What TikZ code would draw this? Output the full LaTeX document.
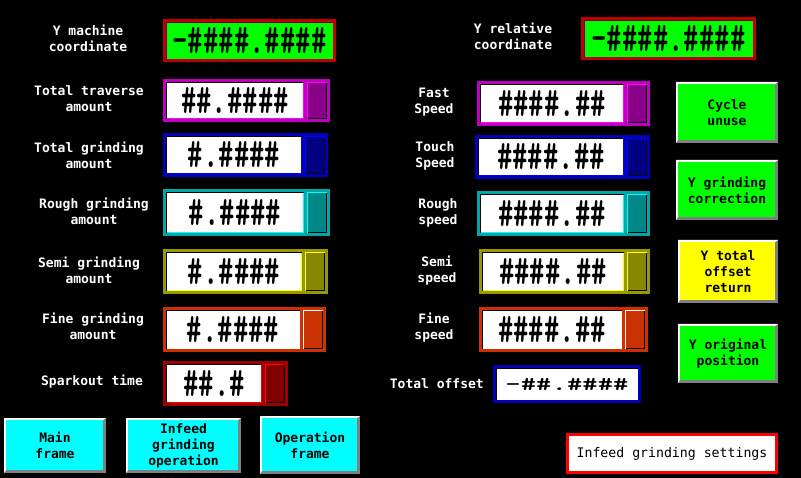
\documentclass[tikz,border=0pt]{standalone}
\usepackage{fontspec}
\usepackage{graphicx}
\newfontfamily\lblfont{DejaVu Sans Mono}
\definecolor{mgF}{HTML}{C000C0}\definecolor{mgD}{HTML}{880088}\definecolor{mgL}{HTML}{FF00FF}
\definecolor{blF}{HTML}{0000B8}\definecolor{blD}{HTML}{000080}\definecolor{blL}{HTML}{0000FF}
\definecolor{tlF}{HTML}{00A8A8}\definecolor{tlD}{HTML}{008888}\definecolor{tlL}{HTML}{00FFFF}
\definecolor{olF}{HTML}{989800}\definecolor{olD}{HTML}{888800}\definecolor{olL}{HTML}{FFFF00}
\definecolor{orF}{HTML}{D03000}\definecolor{orD}{HTML}{C83200}\definecolor{orL}{HTML}{FFFFFF}
\definecolor{drF}{HTML}{A00000}\definecolor{drD}{HTML}{800000}\definecolor{drL}{HTML}{FF0000}
\definecolor{rdF}{HTML}{C00000}\definecolor{rdD}{HTML}{700000}
\definecolor{scrgreen}{HTML}{00FF00}\definecolor{scrcyan}{HTML}{00FFFF}\definecolor{scryellow}{HTML}{FFFF00}
\definecolor{edgegray}{HTML}{808080}
\newcommand{\hs}[1]{\scalebox{1}[1.45]{#1}}
\newcommand{\fld}[8]{%
  \fill[#7F] (#2,#3) rectangle (#4,#5);
  \fill[white] ({#2+3},{#3+3}) rectangle ({#6-3},{#5-3});
  \draw[black,line width=1pt] ({#2+3.5},{#5-3}) -- ({#2+3.5},{#3+3.5}) -- ({#6-3},{#3+3.5});
  \draw[#7L,line width=1pt] ({#2+4},{#5-3.5}) -- ({#6-3.5},{#5-3.5}) -- ({#6-3.5},{#3+4});
  \fill[#7D] (#6,{#3+3}) rectangle ({#4-3},{#5-3});
  \draw[#7L,line width=1pt] ({#6+0.5},{#5-3}) -- ({#6+0.5},{#3+3.5}) -- ({#4-3},{#3+3.5});
  \draw[black,line width=1pt] ({#6+1},{#5-3.5}) -- ({#4-3.5},{#5-3.5}) -- ({#4-3.5},{#3+4});
  \node[hash] (#1) at ({(#2+#6)/2},{(#3+#5)/2}) {\hs{#8}};
}
\newcommand{\grn}[6]{%
  \fill[rdF] (#2,#3) rectangle (#4,#5);
  \fill[rdD] ({#2+3},{#3+3}) rectangle ({#4-3},{#5-3});
  \fill[scrgreen] ({#2+4},{#3+4}) rectangle ({#4-3},{#5-3});
  \node[hash] (#1) at ({(#2+#4)/2},{(#3+#5)/2}) {\hs{#6}};
}
\newcommand{\btn}[7]{%
  \fill[edgegray] (#2,#3) rectangle (#4,#5);
  \fill[white] (#2,#3) -- (#4,#3) -- ({#4-3},{#3+2}) -- ({#2+2},{#5-3}) -- (#2,#5) -- cycle;
  \fill[#6] ({#2+2},{#3+2}) rectangle ({#4-3},{#5-3});
  \node[btntext] (#1) at ({(#2+#4)/2},{(#3+#5)/2}) {#7};
}
\begin{document}
\begin{tikzpicture}[x=1pt,y=-1pt,
  lbl/.style={text=white,font=\fontsize{13}{16}\selectfont\lblfont\bfseries,align=center,inner sep=0pt},
  btntext/.style={text=black,font=\fontsize{13}{16}\selectfont\lblfont\bfseries,align=center,inner sep=0pt},
  hash/.style={text=black,font=\fontsize{29.3}{30}\selectfont\ttfamily\bfseries,inner sep=0pt}]
\fill[black] (0,0) rectangle (801,478);
\useasboundingbox (0,0) rectangle (801,478);
% left labels
\node[lbl] (l1) at (88,38.5) {Y machine\\coordinate};
\node[lbl] (l2) at (89,99) {Total traverse\\amount};
\node[lbl] (l3) at (89,155) {Total grinding\\amount};
\node[lbl] (l4) at (94,211.5) {Rough grinding\\amount};
\node[lbl] (l5) at (89,270) {Semi grinding\\amount};
\node[lbl] (l6) at (93,326) {Fine grinding\\amount};
\node[lbl] (l7) at (92,382) {Sparkout time};
% right labels
\node[lbl] (r1) at (513,36.5) {Y relative\\coordinate};
\node[lbl] (r2) at (434,102.5) {Fast\\Speed};
\node[lbl] (r3) at (435,156) {Touch\\Speed};
\node[lbl] (r4) at (438,212.5) {Rough\\speed};
\node[lbl] (r5) at (437,271) {Semi\\speed};
\node[lbl] (r6) at (434,328) {Fine\\speed};
\node[lbl,anchor=east] (r7) at (484,384) {Total offset};
% green coordinate boxes
\grn{ymach}{163}{19}{336}{62}{-\#\#\#\#.\#\#\#\#}
\grn{yrel}{581}{17}{756}{60}{-\#\#\#\#.\#\#\#\#}
% left fields
\fld{trav}{163}{79}{330}{122}{307}{mg}{\#\#.\#\#\#\#}
\fld{tgrind}{163}{133}{328}{177}{305}{bl}{\#.\#\#\#\#}
\fld{rgrind}{163}{189}{330}{236}{307}{tl}{\#.\#\#\#\#}
\fld{sgrind}{163}{249}{328}{294}{305}{ol}{\#.\#\#\#\#}
\fld{fgrind}{163}{307}{326}{352}{303}{or}{\#.\#\#\#\#}
\fld{spark}{163}{361}{288}{406}{265}{dr}{\#\#.\#}
% right fields
\fld{fast}{477}{81}{650}{126}{627}{mg}{\#\#\#\#.\#\#}
\fld{touch}{475}{135}{650}{179}{627}{bl}{\#\#\#\#.\#\#}
\fld{rspeed}{477}{191}{650}{236}{627}{tl}{\#\#\#\#.\#\#}
\fld{sspeed}{479}{249}{650}{294}{627}{ol}{\#\#\#\#.\#\#}
\fld{fspeed}{479}{307}{648}{352}{625}{or}{\#\#\#\#.\#\#}
% total offset
\fill[blF] (493,365) rectangle (641,403);
\fill[black] (496,368) rectangle (638,400);
\fill[white] (497,369) rectangle (638,400);
\node[hash] (toff) at (567,384.5) {\scalebox{1}[0.67]{-\#\#.\#\#\#\#}};
% buttons
\btn{cyc}{676}{82}{778}{143}{scrgreen}{Cycle\\unuse}
\btn{ygc}{676}{160}{778}{220}{scrgreen}{Y grinding\\correction}
\btn{yto}{678}{240}{778}{303}{scryellow}{Y total\\offset\\return}
\btn{yop}{678}{324}{778}{383}{scrgreen}{Y original\\position}
\btn{mainf}{4}{418}{106}{473}{scrcyan}{Main\\frame}
\btn{infop}{126}{418}{241}{473}{scrcyan}{Infeed\\grinding\\operation}
\btn{opf}{260}{416}{360}{474}{scrcyan}{Operation\\frame}
% settings title
\node[draw=red,line width=3pt,fill=white,minimum width=209pt,minimum height=38pt,inner sep=0pt,
  text=black,font=\fontsize{13.2}{16}\selectfont\lblfont] (title) at (672,453.5) {Infeed grinding settings};
\end{tikzpicture}
\end{document}
